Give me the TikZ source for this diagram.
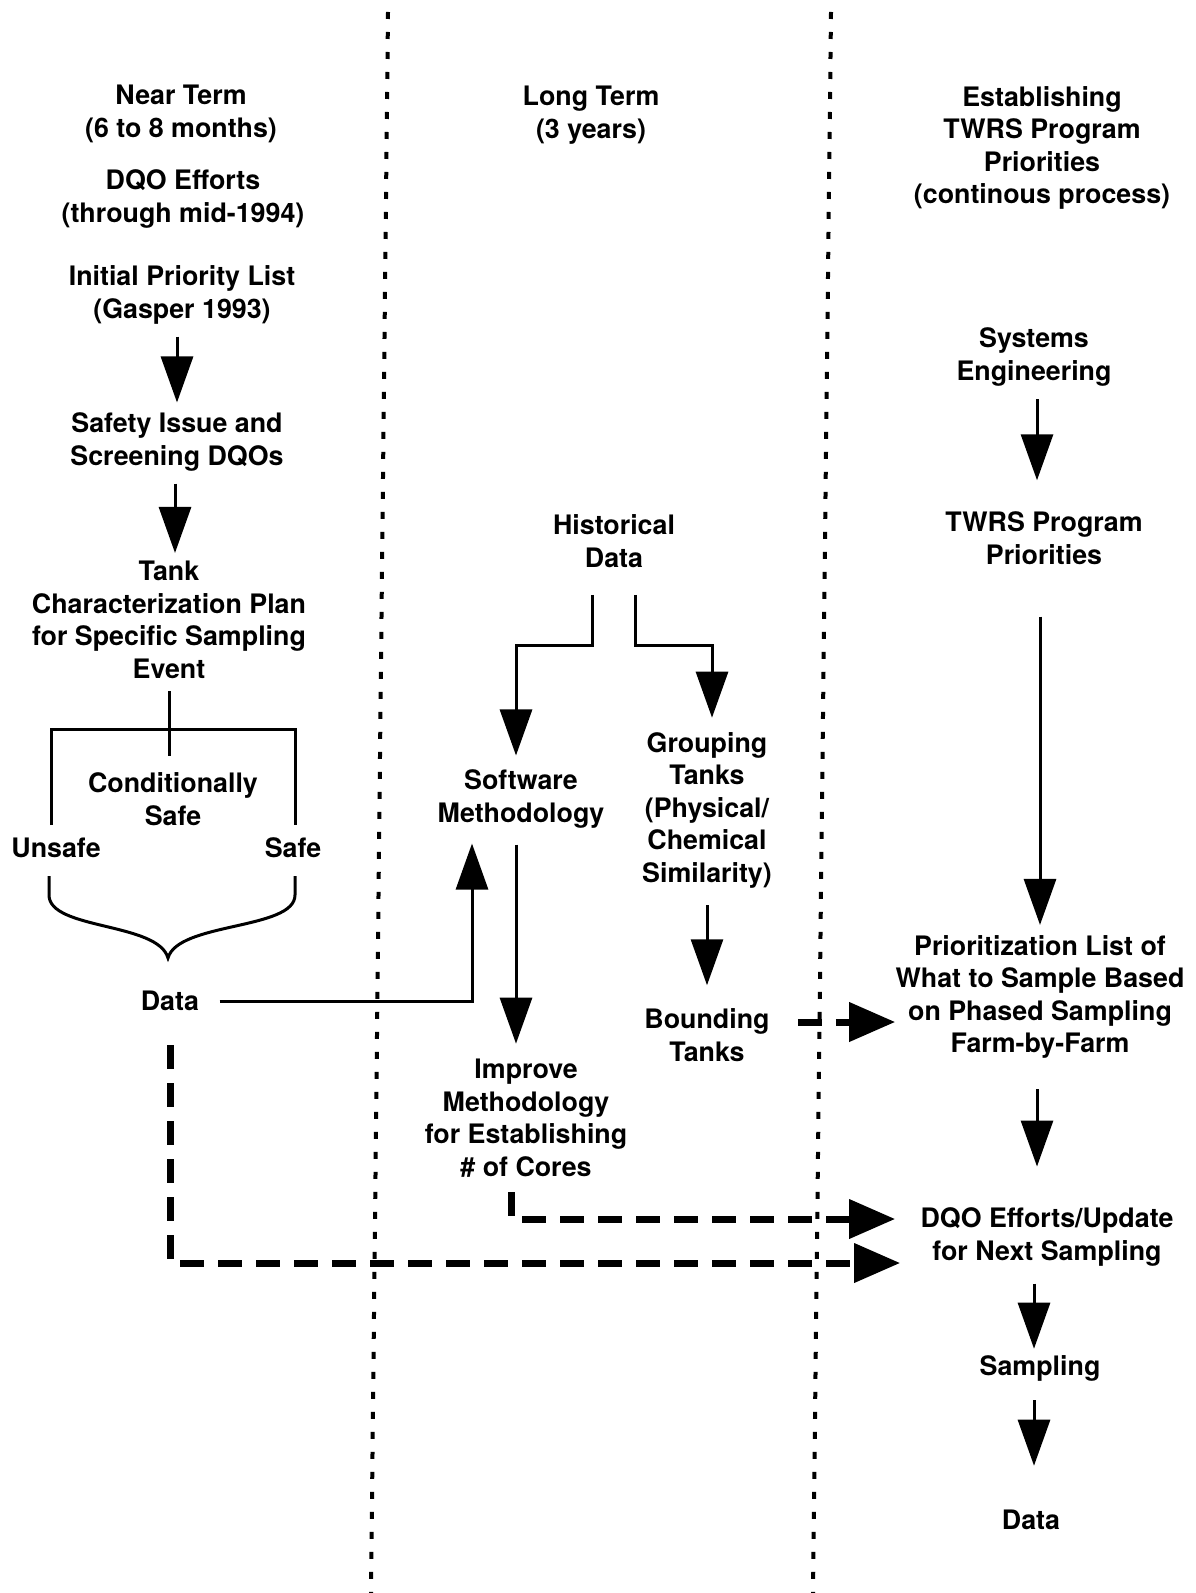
\documentclass[tikz,border=0pt]{standalone}
\usepackage{fontspec}
\setmainfont{TeX Gyre Heros}
\usetikzlibrary{arrows.meta}

\begin{document}
\begin{tikzpicture}[x=0.5pt,y=-0.5pt,
		txt/.style={font=\fontsize{13.4}{16.25}\selectfont\bfseries, align=center, inner sep=0pt},
		arr/.style={line width=1.5pt, -{Triangle[length=23pt,width=16pt]}},
		darr/.style={line width=3.5pt, dash pattern=on 12pt off 7pt, -{Triangle[length=23pt,width=19pt]}},
		divider/.style={line width=2pt, dash pattern=on 3.5pt off 6.5pt}]
		\useasboundingbox (0,0) rectangle (1195,1593);
		
		% column dividers
		\draw[divider] (388,12) -- (371,1593);
		\draw[divider] (831,12) -- (813,1593);
		
		% near term
		\node[txt] (near) at (181,114) {Near Term\\(6 to 8 months)};
		\node[txt] (dqo) at (183,199) {DQO Efforts\\(through mid-1994)};
		\node[txt] (init) at (182,295) {Initial Priority List\\(Gasper 1993)};
		\node[txt] (safety) at (177,442) {Safety Issue and\\Screening DQOs};
		\node[txt] (plan) at (169,620) {Tank\\Characterization Plan\\for Specific Sampling\\Event};
		\node[txt] (cond) at (173,799) {Conditionally\\Safe};
		\node[txt] (unsafe) at (56,848) {Unsafe};
		\node[txt] (safe) at (293,848) {Safe};
		\node[txt] (data1) at (170,1001) {Data};
		
		% long term
		\node[txt] (long) at (591,115) {Long Term\\(3 years)};
		\node[txt] (hist) at (614,541) {Historical\\Data};
		\node[txt] (soft) at (521,799) {Software\\Methodology};
		\node[txt] (group) at (707,810) {Grouping\\Tanks\\(Physical/\\Chemical\\Similarity)};
		\node[txt] (improve) at (526,1118) {Improve\\Methodology\\for Establishing\\\# of Cores};
		\node[txt] (bound) at (707,1035) {Bounding\\Tanks};
		
		% program priorities
		\node[txt] (estab) at (1042,148) {Establishing\\TWRS Program\\Priorities\\(continous process)};
		\node[txt] (sys) at (1034,357) {Systems\\Engineering};
		\node[txt] (twrs) at (1044,538) {TWRS Program\\Priorities};
		\node[txt] (prior) at (1040,997) {Prioritization List of\\What to Sample Based\\on Phased Sampling\\Farm-by-Farm};
		\node[txt] (dqou) at (1047,1237) {DQO Efforts/Update\\for Next Sampling};
		\node[txt] (sampling) at (1040,1368) {Sampling};
		\node[txt] (data2) at (1031,1520) {Data};
		
		\draw[arr, shorten <=6pt, shorten >=5pt] (safety.north |- init.south) -- (safety.north);
		\draw[arr, shorten <=6pt, shorten >=4pt] ([xshift=3pt]plan.north |- safety.south) -- ([xshift=3pt]plan.north);
		
		% split of the plan
		\draw[line width=1.5pt] ([yshift=-6pt]plan.south) -- ([yshift=8pt]plan.south |- cond.north);
		\draw[line width=1.5pt] (51,825) -- (51,729) -- (295,729) -- (295,825);
		\draw[line width=1.5pt] (49,876) -- (49,895)
		.. controls (49,930) and (158,922) .. (168,958)
		.. controls (178,922) and (295,930) .. (295,895) -- (295,876);
		
		\draw[arr, shorten <=10pt, shorten >=7.5pt] (data1) -| ([xshift=-24.5pt]soft.south);
		\draw[darr, shorten <=17pt, shorten >=10pt] (data1.south) |- ([yshift=-13pt]dqou.west);
		
		\draw[arr, shorten >=7pt] ([xshift=-11pt,yshift=-13.5pt]hist.south) -- ++(0,51) -| ([xshift=-2.5pt]soft.north);
		\draw[arr, shorten >=7pt] ([xshift=10.5pt,yshift=-13.5pt]hist.south) -- ++(0,51) -| ([xshift=2.5pt]group.north);
		\draw[arr, shorten <=8pt, shorten >=7.5pt] ([xshift=-2.5pt]soft.south) -- ([xshift=-2.5pt]soft.south |- improve.north);
		\draw[arr, shorten <=8.5pt, shorten >=11.5pt] (group.south) -- (group.south |- bound.north);
		\draw[darr, shorten <=14pt] ([yshift=6.5pt]bound.east) -- ([yshift=6.5pt]bound.east -| prior.west);
		\draw[darr, shorten <=7.5pt, shorten >=12.5pt] ([xshift=-7.5pt]improve.south) |- ([yshift=9pt]dqou.west);
		
		\draw[arr, shorten <=6.5pt, shorten >=15.5pt] ([xshift=1.5pt]sys.south) -- ([xshift=1.5pt]sys.south |- twrs.north);
		\draw[arr, shorten <=26pt, shorten >=5pt] (prior.north |- twrs.south) -- (prior.north);
		\draw[arr, shorten <=15pt, shorten >=20.5pt] ([xshift=-1.5pt]prior.south) -- ([xshift=-1.5pt]prior.south |- dqou.north);
		\draw[arr, shorten <=8.5pt, shorten >=3pt] ([xshift=-3pt]sampling.north |- dqou.south) -- ([xshift=-3pt]sampling.north);
		\draw[arr, shorten <=9.5pt, shorten >=22pt] ([xshift=-3pt]sampling.south) -- ([xshift=-3pt]sampling.south |- data2.north);
	\end{tikzpicture}
\end{document}
